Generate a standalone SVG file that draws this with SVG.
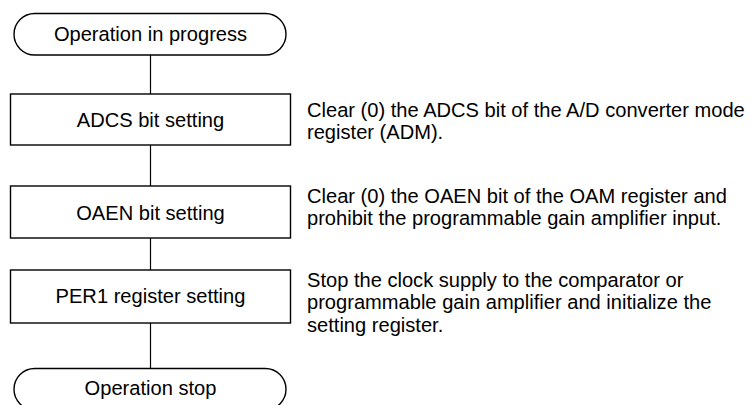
<svg xmlns="http://www.w3.org/2000/svg" width="751" height="405" viewBox="0 0 751 405">
<style>
.shape{fill:#fff;stroke:#000;stroke-width:1.4}
.conn{fill:none;stroke:#000;stroke-width:1.2}
text{font-family:"Liberation Sans",Arial,sans-serif;font-size:20.1px;fill:#000}
.c{text-anchor:middle}
</style>
<rect width="751" height="405" fill="#fff"/>
<g id="connectors">
<line class="conn" x1="150.5" y1="55" x2="150.5" y2="94"/>
<line class="conn" x1="150.5" y1="145" x2="150.5" y2="186"/>
<line class="conn" x1="150.5" y1="238" x2="150.5" y2="270"/>
<line class="conn" x1="150.5" y1="323" x2="150.5" y2="368.5"/>
</g>
<g id="start">
<rect class="shape" x="14" y="13.5" width="272" height="41.5" rx="20.75"/>
<text class="c" x="150.5" y="40.7">Operation in progress</text>
</g>
<g id="adcs">
<rect class="shape" x="10.5" y="94" width="280" height="51"/>
<text class="c" x="150.5" y="126.7">ADCS bit setting</text>
</g>
<g id="oaen">
<rect class="shape" x="10.5" y="186" width="280" height="52"/>
<text class="c" x="150.5" y="220">OAEN bit setting</text>
</g>
<g id="per1">
<rect class="shape" x="10.5" y="270" width="280" height="53"/>
<text class="c" x="150.5" y="303.3">PER1 register setting</text>
</g>
<g id="stop">
<rect class="shape" x="14" y="368.5" width="272" height="41.5" rx="20.75"/>
<text class="c" x="150.5" y="395">Operation stop</text>
</g>
<g id="note1">
<text x="307" y="116.7">Clear (0) the ADCS bit of the A/D converter mode</text>
<text x="307" y="138.5">register (ADM).</text>
</g>
<g id="note2">
<text x="307" y="202.5">Clear (0) the OAEN bit of the OAM register and</text>
<text x="307" y="224.8">prohibit the programmable gain amplifier input.</text>
</g>
<g id="note3">
<text x="307" y="287">Stop the clock supply to the comparator or</text>
<text x="307" y="309.3">programmable gain amplifier and initialize the</text>
<text x="307" y="331.7">setting register.</text>
</g>
</svg>
